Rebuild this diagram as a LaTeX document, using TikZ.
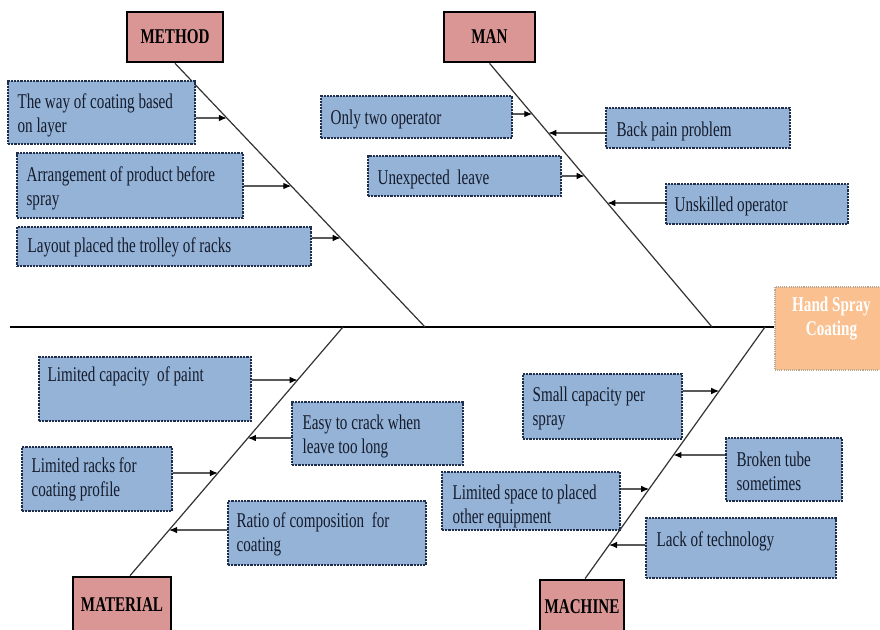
\documentclass[tikz,border=0pt]{standalone}
\usepackage{fontspec}
\setmainfont{Liberation Serif}[FakeStretch=0.72]
\usetikzlibrary{arrows.meta,fit,calc}

\definecolor{causefill}{HTML}{95B3D7}
\definecolor{causeline}{HTML}{1F2E4C}
\definecolor{causeink}{HTML}{141B2B}
\definecolor{catfill}{HTML}{D99694}
\definecolor{headfill}{HTML}{FAC090}
\definecolor{headline}{HTML}{BCA690}
\definecolor{boneline}{HTML}{333333}

\newcommand{\boxfont}{\fontsize{15.75}{18}\selectfont}

\begin{document}
\begin{tikzpicture}[x=0.75pt,y=-0.75pt,
  cause/.style={draw=causeline, fill=causefill, line width=1pt,
    dash pattern=on 1.6pt off 0.8pt, inner sep=0pt},
  ctext/.style={anchor=north west, inner sep=0pt, align=left,
    text=causeink, font=\boxfont},
  cat/.style={draw=black, line width=2pt, fill=catfill, inner sep=0pt,
    font=\boxfont\bfseries},
  head/.style={draw=headline, fill=headfill, line width=0.8pt,
    dash pattern=on 0.8pt off 0.8pt, inner sep=0pt},
  headtext/.style={inner sep=0pt, align=center, text=white,
    font=\boxfont\bfseries},
  bone/.style={draw=boneline, line width=0.9pt},
  spine/.style={draw=black, line width=1.2pt},
  arr/.style={draw=black, line width=0.9pt, -{Latex[length=6pt,width=5pt]}}]

\useasboundingbox (0,0) rectangle (880,630);
\clip (0,0) rectangle (880,630);
\fill[white] (0,0) rectangle (880,630);

% head of the fish
\node[head, fit={(775,287) (888,370)}] (hsc) {};
\node[headtext] (hsct) at ([shift={(0,-9.5)}]hsc.center) {Hand Spray\\Coating};

% spine
\coordinate (spL) at (10,327);
\draw[spine] (spL) -- (hsc.west |- spL);

% categories
\node[cat, minimum width=72pt, minimum height=37.5pt] (method) at (175,37) {METHOD};
\node[cat, minimum width=68.25pt, minimum height=37.5pt] (man) at (489.5,37) {MAN};
\node[cat, minimum width=73.5pt, minimum height=41.25pt] (material) at (122,604.5) {MATERIAL};
\node[cat, minimum width=63pt, minimum height=39.75pt] (machine) at (582,606.5) {MACHINE};

% bones
\coordinate (mj) at (425,327);
\coordinate (nj) at (712,327);
\coordinate (tj) at (343,327);
\coordinate (cj) at (765,327);
\coordinate (tb) at ($(material.north)+(8,0)$);
\coordinate (cb) at ($(machine.north)+(3,0)$);
\draw[bone] (method.south) -- (mj);
\draw[bone] (man.south) -- (nj);
\draw[bone] (tj) -- (tb);
\draw[bone] (cj) -- (cb);

% METHOD causes
\node[cause, fit={(8,81) (195,144)}] (m1) {};
\node[ctext] (m1t) at ([shift={(10,13)}]m1.north west) {The way of coating based\\on layer};
\node[cause, fit={(17,153) (243,218)}] (m2) {};
\node[ctext] (m2t) at ([shift={(10,14)}]m2.north west) {Arrangement of product before\\spray};
\node[cause, fit={(17,227) (311,266)}] (m3) {};
\node[ctext] (m3t) at ([shift={(11,11)}]m3.north west) {Layout placed the trolley of racks};
\draw[arr] (m1.east |- 0,118) -- (intersection of method.south--mj and 0,118--1,118);
\draw[arr] (m2.east |- 0,186) -- (intersection of method.south--mj and 0,186--1,186);
\draw[arr] (m3.east |- 0,238) -- (intersection of method.south--mj and 0,238--1,238);

% MAN causes
\node[cause, fit={(321,96) (512,138)}] (a1) {};
\node[ctext] (a1t) at ([shift={(10,14)}]a1.north west) {Only two operator};
\node[cause, fit={(368,156) (561,196)}] (a2) {};
\node[ctext] (a2t) at ([shift={(10,14)}]a2.north west) {Unexpected\ \ leave};
\node[cause, fit={(606,108) (790,148)}] (a3) {};
\node[ctext] (a3t) at ([shift={(11,14)}]a3.north west) {Back pain problem};
\node[cause, fit={(666,184) (848,224)}] (a4) {};
\node[ctext] (a4t) at ([shift={(9,13)}]a4.north west) {Unskilled operator};
\draw[arr] (a1.east |- 0,114) -- (intersection of man.south--nj and 0,114--1,114);
\draw[arr] (a2.east |- 0,176) -- (intersection of man.south--nj and 0,176--1,176);
\draw[arr] (a3.west |- 0,133) -- (intersection of man.south--nj and 0,133--1,133);
\draw[arr] (a4.west |- 0,203) -- (intersection of man.south--nj and 0,203--1,203);

% MATERIAL causes
\node[cause, fit={(39,357) (251,421)}] (t1) {};
\node[ctext] (t1t) at ([shift={(9,10)}]t1.north west) {Limited capacity\ \ of paint};
\node[cause, fit={(292,402) (463,465)}] (t2) {};
\node[ctext] (t2t) at ([shift={(11,13)}]t2.north west) {Easy to crack when\\leave too long};
\node[cause, fit={(22,447) (172,511)}] (t3) {};
\node[ctext] (t3t) at ([shift={(10,11)}]t3.north west) {Limited racks for\\coating profile};
\node[cause, fit={(228,501) (426,565)}] (t4) {};
\node[ctext] (t4t) at ([shift={(9,12)}]t4.north west) {Ratio of composition\ \ for\\coating};
\draw[arr] (t1.east |- 0,380) -- (intersection of tj--tb and 0,380--1,380);
\draw[arr] (t2.west |- 0,438) -- (intersection of tj--tb and 0,438--1,438);
\draw[arr] (t3.east |- 0,473) -- (intersection of tj--tb and 0,473--1,473);
\draw[arr] (t4.west |- 0,530) -- (intersection of tj--tb and 0,530--1,530);

% MACHINE causes
\node[cause, fit={(523,374) (682,439)}] (c1) {};
\node[ctext] (c1t) at ([shift={(10,13)}]c1.north west) {Small capacity per\\spray};
\node[cause, fit={(726,438) (842,501)}] (c2) {};
\node[ctext] (c2t) at ([shift={(11,14)}]c2.north west) {Broken tube\\sometimes};
\node[cause, fit={(442,472) (620,530)}] (c3) {};
\node[ctext] (c3t) at ([shift={(11,13)}]c3.north west) {Limited space to placed\\other equipment};
\node[cause, fit={(646,518) (836,578)}] (c4) {};
\node[ctext] (c4t) at ([shift={(11,14)}]c4.north west) {Lack of technology};
\draw[arr] (c1.east |- 0,391) -- (intersection of cj--cb and 0,391--1,391);
\draw[arr] (c2.west |- 0,455) -- (intersection of cj--cb and 0,455--1,455);
\draw[arr] (c3.east |- 0,489) -- (intersection of cj--cb and 0,489--1,489);
\draw[arr] (c4.west |- 0,545) -- (intersection of cj--cb and 0,545--1,545);

\end{tikzpicture}
\end{document}
